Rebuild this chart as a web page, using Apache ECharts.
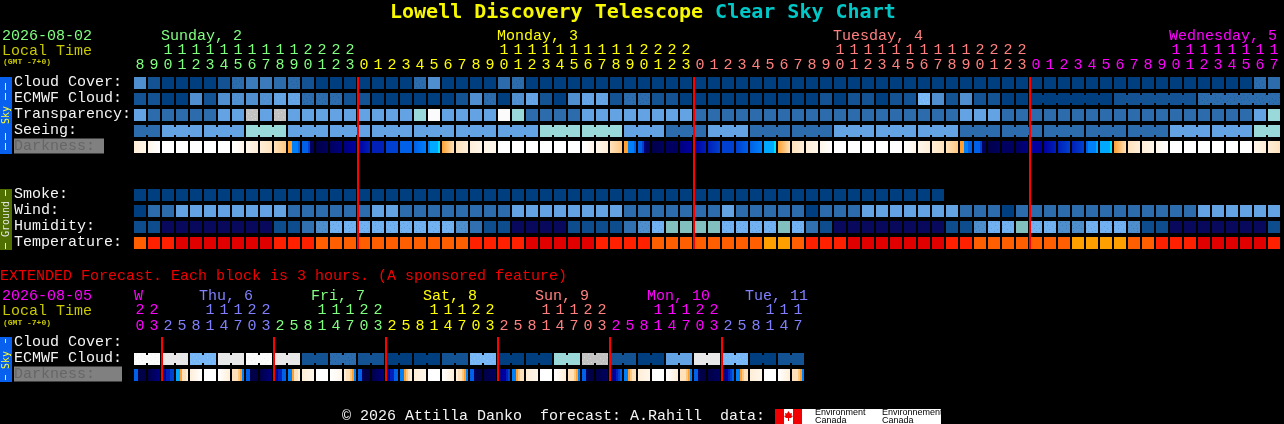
<!DOCTYPE html>
<html><head><meta charset="utf-8">
<style>html,body{margin:0;padding:0;background:#000;overflow:hidden}#c{width:1284px;height:424px}</style>
<script src="https://cdn.jsdelivr.net/npm/echarts@6/dist/echarts.min.js"></script>
</head><body><div id="c"></div>
<script>
// ---------- palettes ----------
const skyPalette = ['#003f7f','#135393','#2c6cac','#3b7bbb','#4f8fcf','#63a3e3','#77b7f7','#99d9d9','#c2c2c2','#e8e8e8','#fbfbfb'];
const humidityPalette = ['#08085c','#0d4d8d','#3070b0','#4e8ecc','#71b1f1','#82bfbf'];
const temperaturePalette = ['#e00000','#ff2000','#ff5f00','#ffa000'];
const darknessRamp = ['#ffffff','#fff6ea','#ffeed8','#ffe2bc','#ffc880','#ffa030','#00e0ff','#00a8ff','#0080f8','#0060e8','#0040d0','#0020b8','#0000a0','#000080','#000060','#000048'];

// ---------- main chart data (one value per hour column) ----------
const hours = [8,9,10,11,12,13,14,15,16,17,18,19,20,21,22,23,
  0,1,2,3,4,5,6,7,8,9,10,11,12,13,14,15,16,17,18,19,20,21,22,23,
  0,1,2,3,4,5,6,7,8,9,10,11,12,13,14,15,16,17,18,19,20,21,22,23,
  0,1,2,3,4,5,6,7,8,9,10,11,12,13,14,15,16,17];
const dayNames = {2:'Sunday, 2',26:'Monday, 3',50:'Tuesday, 4',74:'Wednesday, 5'};
const midnightCols = [16,40,64];
const dayColors = ['#80ff80','#ffff00','#ff8080','#ff00ff'];
const rowNames = ['Cloud Cover:','ECMWF Cloud:','Transparency:','Seeing:','Darkness:','','','Smoke:','Wind:','Humidity:','Temperature:'];

const cloudCover = [40,10,0,0,0,0,10,18,30,30, 20,18,10,0,0,0,0,0,0,0, 18,40,0,0,0,0,20,18,0,0,
  0,0,0,0,0,0,0,0,0,0, 0,0,0,0,0,0,0,0,0,0, 0,0,0,0,0,0,0,0,0,0, 0,0,0,0,0,0,0,0,0,0, 0,0,0,0,0,0,0,0,0,0, 18,20];
const ecmwfCloud = [10,10,0,0,40,10,40,45,40,45, 55,55,18,18,18,10,10,0,0,0, 0,0,0,10,40,18,0,45,55,10,
  0,40,55,55,10,18,18,10,10,0, 0,0,0,0,0,0,0,0,0,10, 0,10,10,0,10,10,65,40,10,40,
  10,10,0,0,0,0,0,0,0,0, 10,10,10,10,10,10,18,18,18,18, 18,18];
const ecmwfRuns = [...Array(64).fill(1),6,6,6];
const transparency = [50,20,20,20,20,20,50,50,85,50, 85,50,50,50,50,50,50,50,50,50, 70,100,50,50,50,50,100,70,20,20,
  20,20,50,50,50,50,50,50,50,50, 20,20,20,20,20,20,20,20,20,20, 20,20,20,20,20,20,20,20,20,50,
  50,50,20,20,20,20,20,20,20,20, 20,20,20,20,20,20,20,20,20,20, 50,70];
const seeingRuns = [2,3,3,3,3,3,3,3,3,3,3,3,3,3,3,3,3,3,3,3,3,3,3,3,3,3,3,2];
const seeingBlocks = [20,50,50,70,50,50,50,50,50,50,70,70,50,20,50,20,20,50,50,50,20,20,20,20,20,50,50,70];
const darkness = [[2,1],[1,0],[0,0],[0,0],[0,0],[0,0],[0,0],[0,1],[1,2],[2,3],
  [3,4],[5,5,8,8,8,9],[9,9,9,10,14,14],[15,14],[14,13],[13,12],[12,11],[11,11],[10,10],[9,9],
  [9,8],[8,7,7,7,7,6],[5,3],[3,2],[2,1],[1,1],[0,0],[0,0],[0,0],[0,0],
  [0,0],[0,0],[0,1],[1,2],[3,4],[5,5,8,8,8,9],[9,9,10,13,14,14],[15,14],[14,14],[13,12],
  [12,11],[11,10],[10,10],[10,9],[9,8],[7,7,7,7,7,6],[5,3],[3,2],[2,1],[1,0],
  [0,0],[0,0],[0,0],[0,0],[0,0],[0,1],[1,2],[2,3],[3,4],[5,5,8,8,9,9],
  [9,9,9,10,14,14],[15,14],[14,14],[14,13],[12,12],[12,11],[11,10],[11,10],[9,8,8,8,8,7],[7,7,7,7,7,6],
  [5,3],[3,2],[2,1],[1,0],[0,0],[0,0],[0,0],[0,0],[0,0],[0,0],
  [1,2],[2,3]];
const smoke = [0,0,0,0,0,0,0,0,0,0, 0,0,0,0,0,0,0,0,0,0, 0,0,0,0,0,0,0,0,0,0, 0,0,0,0,0,0,0,0,0,0, 0,0,0,0,0,0,0,0,0,0, 0,0,0,0,0,0,0,0];
const wind = [0,20,20,50,50,50,50,50,50,50, 50,20,20,20,20,20,20,50,50,20, 20,20,20,20,20,20,20,50,50,50,
  50,50,50,50,50,20,20,20,20,20, 20,20,50,20,20,20,20,20,0,20, 20,20,50,50,50,50,50,50,50,20,
  20,20,0,20,20,20,20,20,20,20, 20,20,20,20,20,20,50,50,50,50, 50,50];
const humidity = [1,1,0,0,0,0,0,0,0,0, 1,1,2,2.8,3.8,3.8,3.8,3.8,3.8,3.8, 3.8,3.8,3.8,2.8,2,1,1,0,0,0,
  0,1,1,1,1,2,2.8,3.8,5,5, 5,5,3.8,3.8,3.8,3.8,5,3.8,2,1, 0,0,0,0,0,0,0,0,1,1,
  2.8,3.8,3.8,5,3.8,3.8,2.8,2.8,3.8,3.8, 3.8,2.8,1,1,0,0,0,0,0,0, 0,1];
const temperature = [2,1,1,0,0,0,0,0,0,0, 1,1,1,2,2,2,2,2,2,2, 2,2,2,2,1,1,1,1,0,0,
  0,0,0,1,1,1,1,2,2,2, 2,2,2,2,2,3,3,2,1,1, 1,0,0,0,0,0,0,0,1,1,
  2,2,2,2,2,2,2,3,3,3, 3,2,2,1,1,1,0,0,0,0, 0,1];

// ---------- extended forecast data (one value per 3-hour column) ----------
const extHours = [20,23, 2,5,8,11,14,17,20,23, 2,5,8,11,14,17,20,23, 2,5,8,11,14,17,20,23,
  2,5,8,11,14,17,20,23, 2,5,8,11,14,17,20,23, 2,5,8,11,14,17];
const extDayNames = {0:'W',4:'Thu, 6',12:'Fri, 7',20:'Sat, 8',28:'Sun, 9',36:'Mon, 10',43:'Tue, 11'};
const extMidnightCols = [2,10,18,26,34,42];
const extDayColors = ['#ff00ff','#8080ff','#80ff80','#ffff00','#ff8080','#ff00ff','#8080ff'];
const extRowNames = ['Cloud Cover:','ECMWF Cloud:','Darkness:'];
const extEcmwfPairs = [96,90,65,90,96,90,10,18,10,0,0,10,65,0,0,75,85,10,0,50,90,65,0,10];
const extDarkness = [[9,9,15,15,15,15],[15,13],[12,12,11,11,10,10],[7,7,5,3,3,2],[2,0],[0,0],[0,2],[3,3,3,4,5,8],
  [9,9,15,15,15,15],[15,13],[12,12,11,11,9,9],[8,8,5,3,3,2],[2,1],[0,0],[0,1],[2,3,3,4,5,8],
  [9,9,14,15,15,15],[15,13],[12,12,11,11,9,9],[8,8,5,4,3,2],[2,1],[0,0],[0,2],[2,3,3,4,5,8],
  [9,9,14,15,15,15],[15,14],[14,13,12,12,11,10],[8,8,5,4,3,3],[2,1],[0,0],[0,2],[3,3,3,4,5,8],
  [9,9,14,15,15,15],[15,14],[15,13,12,11,10,9],[8,8,5,4,3,3],[2,1],[0,0],[0,2],[3,3,3,4,5,8],
  [9,9,14,15,15,15],[15,14],[15,13,12,11,10,9],[8,8,5,4,3,3],[2,1],[0,0],[0,2],[3,3,3,4,5,8]];

// ---------- build cells ----------
const tens = v => v/10;
const expand = (values, runs) => { const out=[]; runs.forEach((n,i)=>{for(let k=0;k<n;k++) out.push(values[i]);}); return out; };
const joinFlags = runs => { const out=[]; runs.forEach(n=>{for(let k=0;k<n;k++) out.push(k<n-1);}); return out; };
function addRow(cells, row, values, palette, scale, joins){
  values.forEach((v,col)=>{
    const idx = scale ? scale(v) : v;
    const lo = Math.floor(idx), frac = idx-lo;
    let base = palette[lo], dots = null;
    if(frac>0){ if(frac<=0.5){dots=palette[lo+1];} else {base=palette[lo+1]; dots=palette[lo];} }
    cells.push({col,row,base,dots,join:joins?joins[col]:false});
  });
}
function addDarkRow(cells,row,values){ values.forEach((levels,col)=>cells.push({col,row,levels,join:false})); }
const mainCells=[];
addRow(mainCells,0,cloudCover,skyPalette,tens);
addRow(mainCells,1,ecmwfCloud,skyPalette,tens,joinFlags(ecmwfRuns));
addRow(mainCells,2,transparency,skyPalette,tens);
addRow(mainCells,3,expand(seeingBlocks,seeingRuns),skyPalette,tens,joinFlags(seeingRuns));
addDarkRow(mainCells,4,darkness);
addRow(mainCells,7,smoke,skyPalette,tens);
addRow(mainCells,8,wind,skyPalette,tens);
addRow(mainCells,9,humidity,humidityPalette);
addRow(mainCells,10,temperature,temperaturePalette);
const extCells=[];
const extPairRuns = extEcmwfPairs.map(()=>2);
addRow(extCells,1,expand(extEcmwfPairs,extPairRuns),skyPalette,tens,joinFlags(extPairRuns));
addDarkRow(extCells,2,extDarkness);

// ---------- renderers ----------
const dotPattern=[[2,1],[7,2],[10,4],[4,5],[1,7],[8,7],[5,9],[10,10],[2,10]];
function darkFill(levels){
  const n=levels.length, stops=[];
  if(n===2){ stops.push({offset:0,color:darknessRamp[levels[0]]},{offset:1,color:darknessRamp[levels[1]]}); }
  else { levels.forEach((l,i)=>{ stops.push({offset:i/n,color:darknessRamp[l]},{offset:(i+1)/n,color:darknessRamp[l]}); }); }
  return new echarts.graphic.LinearGradient(0,0,1,0,stops);
}
const renderCells = cells => (params,api)=>{
  const c=cells[params.dataIndex];
  const p=api.coord([api.value(0),api.value(1)]);
  const band=api.size([1,1]);
  const w=band[0]-2, x=p[0]-w/2, y=p[1]-w/2;
  const fill=c.levels?darkFill(c.levels):c.base;
  const children=[{type:'rect',shape:{x,y,width:w,height:w},style:{fill}}];
  if(c.join) children.push({type:'rect',shape:{x:x+w,y:y+2,width:2,height:w-4},style:{fill}});
  if(c.dots) dotPattern.forEach(d=>{
    const dx=(d[0]+c.col*5)%w, dy=(d[1]+c.col*3)%w;
    children.push({type:'rect',shape:{x:x+dx,y:y+dy,width:1,height:1},style:{fill:c.dots,opacity:0.55}});
  });
  return {type:'group',children};
};
const renderMidnight = lastRow => (params,api)=>{
  const top=api.coord([api.value(0),0]), bottom=api.coord([api.value(0),lastRow]);
  const band=api.size([1,1]);
  const h=band[0]-2;
  const x=top[0]-band[0]/2;
  return {type:'rect',shape:{x,y:top[1]-h/2,width:2,height:bottom[1]-top[1]+h},style:{fill:'#ff0000'}};
};

// ---------- axis helpers ----------
const FONT='"Liberation Mono","DejaVu Sans Mono",monospace';
const TITLE_FONT='"DejaVu Sans Mono",monospace';
function colorOfCol(col,cuts,colors){ let k=0; cuts.forEach(c=>{if(col>=c)k++;}); return colors[k]; }
const hideAxis={axisLine:{show:false},axisTick:{show:false},splitLine:{show:false}};
function hourAxis(gridIndex,data,color,offset,margin){
  return Object.assign({type:'category',gridIndex,position:'top',data,offset,boundaryGap:true,
    axisLabel:{interval:0,margin,fontFamily:FONT,fontSize:15,color:(v,i)=>color(i),hideOverlap:false}},hideAxis);
}
function cats(n,map){ const a=[]; for(let i=0;i<n;i++) a.push(map[i]||''); return a; }
const mainColor=i=>colorOfCol(i,midnightCols,dayColors);
const extColor=i=>colorOfCol(i,extMidnightCols,extDayColors);
const extDayRich={};
Object.keys(extDayNames).forEach((k,i)=>{
  extDayRich['d'+k]={color:extDayColors[i],fontFamily:FONT,fontSize:15,padding:[0,0,0,k==='0'?1:10]};
});

const option={
  animation:false,
  backgroundColor:'#000',
  title:{left:390,top:1,padding:0,
    text:'{a|Lowell Discovery Telescope }{b|Clear Sky Chart}',
    textStyle:{rich:{
      a:{color:'#f8f800',fontFamily:TITLE_FONT,fontSize:20,fontWeight:'bold',lineHeight:24},
      b:{color:'#00c8c8',fontFamily:TITLE_FONT,fontSize:20,fontWeight:'bold',lineHeight:24}}}},
  grid:[{left:133,top:75,width:1148,height:176},{left:133,top:335,width:672,height:48}],
  xAxis:[
    hourAxis(0,hours.map(h=>String(h%10)),mainColor,0,2),
    hourAxis(0,hours.map(h=>h>=10?String(Math.floor(h/10)):''),mainColor,15,2),
    Object.assign({type:'category',gridIndex:0,position:'top',offset:28,boundaryGap:false,
      data:cats(83,dayNames),
      axisLabel:{interval:0,margin:3,align:'left',fontFamily:FONT,fontSize:15,hideOverlap:false,
        color:(v,i)=>mainColor(i-10)}},hideAxis),
    hourAxis(1,extHours.map(h=>String(h%10)),extColor,0,1),
    hourAxis(1,extHours.map(h=>h>=10?String(Math.floor(h/10)):''),extColor,16,1),
    Object.assign({type:'category',gridIndex:1,position:'top',offset:29,boundaryGap:false,
      data:cats(49,extDayNames),
      axisLabel:{interval:0,margin:2,align:'left',fontSize:15,fontFamily:FONT,hideOverlap:false,rich:extDayRich,
        formatter:(v,i)=>v?('{d'+i+'|'+v+'}'):''}},hideAxis)
  ],
  yAxis:[
    Object.assign({type:'category',gridIndex:0,inverse:true,data:rowNames,
      axisLabel:{interval:0,align:'left',margin:119,color:'#f4f4f4',fontFamily:FONT,fontSize:15,padding:[0,0,2,0],
        formatter:v=>v==='Darkness:'?'{d|Darkness:}':v,
        rich:{d:{color:'#666',backgroundColor:'#808080',fontFamily:FONT,fontSize:15,width:90,height:15}}}},hideAxis),
    Object.assign({type:'category',gridIndex:1,inverse:true,data:extRowNames,
      axisLabel:{interval:0,align:'left',margin:119,color:'#f4f4f4',fontFamily:FONT,fontSize:15,padding:[0,0,2,0],
        formatter:v=>v==='Darkness:'?'{d|Darkness:}':v,
        rich:{d:{color:'#666',backgroundColor:'#808080',fontFamily:FONT,fontSize:15,width:108,height:15}}}},hideAxis)
  ],
  series:[
    {type:'custom',xAxisIndex:0,yAxisIndex:0,clip:false,renderItem:renderCells(mainCells),
      data:mainCells.map(c=>[c.col,c.row]),encode:{x:0,y:1},z:2},
    {type:'custom',xAxisIndex:0,yAxisIndex:0,clip:false,renderItem:renderMidnight(10),
      data:midnightCols.map(c=>[c]),encode:{x:0},z:3},
    {type:'custom',xAxisIndex:3,yAxisIndex:1,clip:false,renderItem:renderCells(extCells),
      data:extCells.map(c=>[c.col,c.row]),encode:{x:0,y:1},z:2},
    {type:'custom',xAxisIndex:3,yAxisIndex:1,clip:false,renderItem:renderMidnight(2),
      data:extMidnightCols.map(c=>[c]),encode:{x:0},z:3}
  ],
  graphic:[
    {type:'text',x:2,y:29,style:{text:'2026-08-02',fill:'#80ff80',font:'15px '+FONT}},
    {type:'text',x:2,y:44,style:{text:'Local Time',fill:'#c8c800',font:'15px '+FONT}},
    {type:'text',x:3,y:58,style:{text:'(GMT -7+0)',fill:'#c8c800',font:'bold 8px '+FONT}},
    {type:'text',x:0,y:269,style:{text:'EXTENDED Forecast. Each block is 3 hours. (A sponsored feature)',fill:'#f00000',font:'15px '+FONT}},
    {type:'text',x:2,y:289,style:{text:'2026-08-05',fill:'#ff00ff',font:'15px '+FONT}},
    {type:'text',x:2,y:304,style:{text:'Local Time',fill:'#c8c800',font:'15px '+FONT}},
    {type:'text',x:3,y:319,style:{text:'(GMT -7+0)',fill:'#c8c800',font:'bold 8px '+FONT}},
    {type:'rect',shape:{x:0,y:77,width:12,height:77},style:{fill:'#0860ee'}},
    {type:'line',shape:{x1:5.5,y1:83,x2:5.5,y2:100},style:{stroke:'#ffff30',lineWidth:1,lineDash:[7,3]}},
    {type:'line',shape:{x1:5.5,y1:133,x2:5.5,y2:150},style:{stroke:'#ffff30',lineWidth:1,lineDash:[7,3]}},
    {type:'text',x:6,y:115,rotation:Math.PI/2,style:{text:'Sky',fill:'#ffff30',font:'10px '+TITLE_FONT,align:'center',verticalAlign:'middle'}},
    {type:'rect',shape:{x:0,y:189,width:12,height:61},style:{fill:'#4f6f00'}},
    {type:'line',shape:{x1:5.5,y1:190,x2:5.5,y2:196},style:{stroke:'#e8e8e8',lineWidth:1}},
    {type:'line',shape:{x1:5.5,y1:243,x2:5.5,y2:249},style:{stroke:'#e8e8e8',lineWidth:1}},
    {type:'text',x:6,y:219,rotation:Math.PI/2,style:{text:'Ground',fill:'#e8e8e8',font:'10px '+TITLE_FONT,align:'center',verticalAlign:'middle'}},
    {type:'rect',shape:{x:0,y:337,width:12,height:45},style:{fill:'#0860ee'}},
    {type:'line',shape:{x1:5.5,y1:339,x2:5.5,y2:343},style:{stroke:'#ffff30',lineWidth:1}},
    {type:'line',shape:{x1:5.5,y1:375,x2:5.5,y2:380},style:{stroke:'#ffff30',lineWidth:1}},
    {type:'text',x:6,y:360,rotation:Math.PI/2,style:{text:'Sky',fill:'#ffff30',font:'10px '+TITLE_FONT,align:'center',verticalAlign:'middle'}},
    {type:'text',x:342,y:409,style:{text:'© 2026 Attilla Danko  forecast: A.Rahill  data:',fill:'#f4f4f4',font:'15px '+FONT}},
    {type:'rect',shape:{x:775,y:409,width:166,height:15},style:{fill:'#fff'}},
    {type:'rect',shape:{x:775,y:409,width:9,height:15},style:{fill:'#f00000'}},
    {type:'rect',shape:{x:793,y:409,width:9,height:15},style:{fill:'#f00000'}},
    {type:'polygon',shape:{points:[[788.5,411],[790,413.5],[792,413],[791.5,415.5],[793,416],[791,418],[789,418],[789,421],[788,421],[788,418],[786,418],[784,416],[785.5,415.5],[785,413],[787,413.5]]},style:{fill:'#f00000'}},
    {type:'text',x:815,y:408,style:{text:'Environment',fill:'#000',font:'9px "Liberation Sans"'}},
    {type:'text',x:815,y:416,style:{text:'Canada',fill:'#000',font:'9px "Liberation Sans"'}},
    {type:'text',x:882,y:408,style:{text:'Environnement',fill:'#000',font:'9px "Liberation Sans"'}},
    {type:'text',x:882,y:416,style:{text:'Canada',fill:'#000',font:'9px "Liberation Sans"'}}
  ]
};
const chart=echarts.init(document.getElementById('c'),null,{renderer:'canvas'});
chart.setOption(option);
</script>
</body></html>
